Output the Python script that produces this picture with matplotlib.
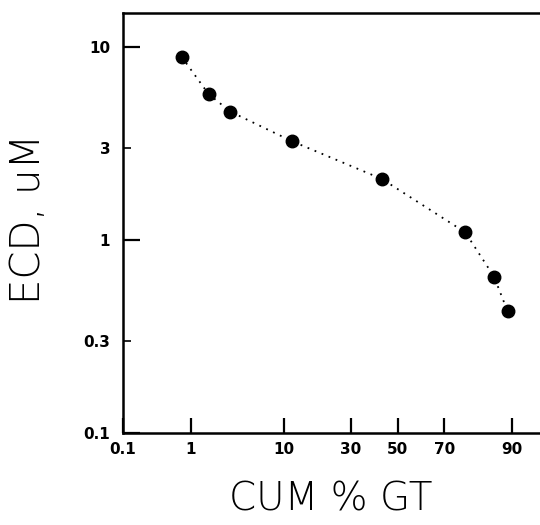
import numpy as np
import matplotlib
matplotlib.use("Agg")
import matplotlib.pyplot as plt
from statistics import NormalDist

# cumulative % greater than vs equivalent circular diameter
cum_pct = [0.76, 1.68, 3.0, 11.7, 43.0, 77.7, 86.1, 89.2]
ecd_um = [8.87, 5.69, 4.62, 3.25, 2.07, 1.095, 0.646, 0.428]

x_ticks = [0.1, 1, 10, 30, 50, 70, 90]
x_tick_labels = ["0.1", "1", "10", "30", "50", "70", "90"]
y_major = [1, 10]
y_minor = [0.3, 3]
y_tick_labels = {0.1: "0.1", 0.3: "0.3", 1: "1", 3: "3", 10: "10"}

nd = NormalDist()
_ppf = np.vectorize(nd.inv_cdf, otypes=[float])
_cdf = np.vectorize(nd.cdf, otypes=[float])


# probability (normal) scale for percent axis
def fwd(p):
    p = np.clip(np.asarray(p, dtype=float) / 100.0, 1e-9, 1 - 1e-9)
    return _ppf(p)


def inv(z):
    return _cdf(np.asarray(z, dtype=float)) * 100.0


fig = plt.figure(figsize=(5.4, 5.25), dpi=100)
ax = fig.add_axes([0.2272, 0.1747, 0.7728, 0.8011])

ax.plot(cum_pct, ecd_um, linestyle=(0, (1, 3.2)), color="black", lw=1.3)
ax.plot(cum_pct, ecd_um, "o", color="black", ms=9, mec="black")

ax.set_xscale("function", functions=(fwd, inv))
ax.set_yscale("log")
ax.set_xlim(0.1, 94.54)
ax.set_ylim(0.1, 15.0)

ax.set_xticks(x_ticks)
ax.set_xticklabels(x_tick_labels)
ax.xaxis.set_minor_locator(matplotlib.ticker.NullLocator())
ax.set_yticks(y_major + [0.1])
ax.set_yticklabels([y_tick_labels[v] for v in y_major + [0.1]])
ax.set_yticks(y_minor, minor=True)
ax.set_yticklabels([y_tick_labels[v] for v in y_minor], minor=True)

tick_font = dict(family="DejaVu Sans", weight="bold", size=11)
for lab in ax.get_xticklabels() + ax.get_yticklabels() + ax.get_yticklabels(minor=True):
    lab.set_fontproperties(matplotlib.font_manager.FontProperties(**tick_font))

ax.tick_params(axis="x", which="major", direction="in", length=11, width=1.6, pad=6)
ax.tick_params(axis="y", which="major", direction="in", length=12, width=1.6, pad=9)
ax.tick_params(axis="y", which="minor", direction="in", length=6, width=1.2, pad=9)

for s in ["left", "bottom", "top"]:
    ax.spines[s].set_linewidth(1.8)
ax.spines["right"].set_visible(False)

fig.text(0.612, 0.048, "CUM % GT", ha="center", va="center", fontsize=28,
         family="DejaVu Sans", weight="light")
fig.text(0.053, 0.583, "ECD, uM", ha="center", va="center", fontsize=29,
         rotation=90, family="DejaVu Sans", weight="light")

fig.savefig("out.png", dpi=100)
